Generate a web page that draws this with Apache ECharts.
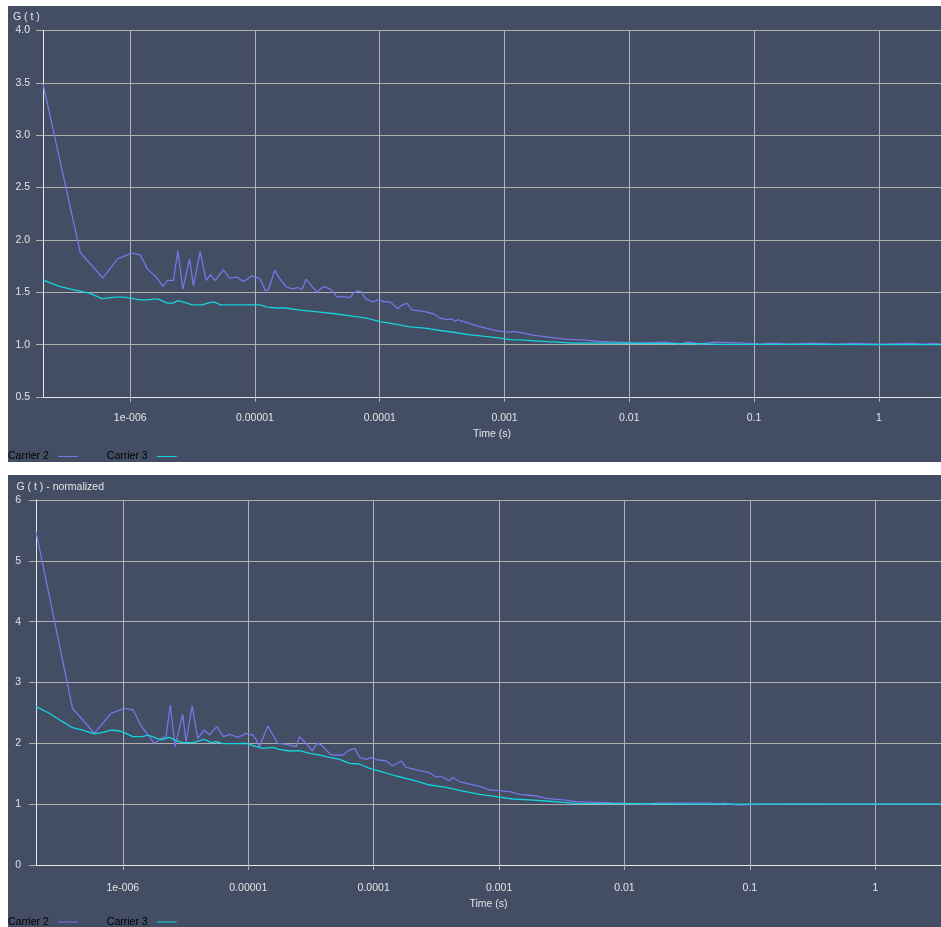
<!DOCTYPE html>
<html><head><meta charset="utf-8">
<script src="https://cdn.jsdelivr.net/npm/echarts@6/dist/echarts.min.js"></script>
<style>
html,body{margin:0;padding:0;background:#ffffff;width:941px;height:927px;overflow:hidden;}
#c1{position:absolute;left:8px;top:6px;width:933px;height:456px;}
#c2{position:absolute;left:8px;top:475px;width:933px;height:452px;}
</style></head><body>
<div id="c1"></div><div id="c2"></div>
<script>
// ---------- text ----------
const seriesNames = ['Carrier 2', 'Carrier 3'];
const xTickExponents = [-6, -5, -4, -3, -2, -1, 0];
const xTickLabels = ['1e-006', '0.00001', '0.0001', '0.001', '0.01', '0.1', '1'];
const topTitle = 'G ( t )';
const bottomTitle = 'G ( t ) - normalized';
const xName = 'Time (s)';

// ---------- top chart: G(t) ----------
const topC2Time = [2.0e-7,3.98e-7,6.04e-7,7.91e-7,1.03e-6,1.20e-6,1.38e-6,1.64e-6,1.83e-6,1.99e-6,2.22e-6,2.41e-6,2.64e-6,2.99e-6,3.21e-6,3.64e-6,4.06e-6,4.38e-6,4.80e-6,5.59e-6,6.25e-6,7.16e-6,8.09e-6,9.44e-6,1.10e-5,1.21e-5,1.28e-5,1.44e-5,1.59e-5,1.80e-5,2.03e-5,2.19e-5,2.38e-5,2.57e-5,2.86e-5,3.17e-5,3.33e-5,3.58e-5,4.01e-5,4.31e-5,4.53e-5,4.97e-5,5.79e-5,6.15e-5,6.63e-5,7.06e-5,7.78e-5,8.91e-5,9.59e-5,1.08e-4,1.23e-4,1.39e-4,1.48e-4,1.65e-4,1.81e-4,2.24e-4,2.69e-4,3.05e-4,3.45e-4,3.78e-4,4.02e-4,4.23e-4,5.14e-4,6.00e-4,7.67e-4,8.41e-4,1.07e-3,1.18e-3,1.33e-3,1.69e-3,2.32e-3,3.17e-3,4.27e-3,5.84e-3,8.44e-3,1.22e-2,1.94e-2,2.55e-2,2.96e-2,3.69e-2,4.87e-2,6.42e-2,8.47e-2,0.112,0.142,0.194,0.308,0.446,0.644,1.02,1.85,2.34,2.72,3.15];
const topC2G = [3.49,1.88,1.636,1.82,1.874,1.858,1.721,1.636,1.556,1.613,1.613,1.899,1.53,1.82,1.562,1.889,1.613,1.667,1.613,1.715,1.636,1.645,1.603,1.657,1.63,1.517,1.524,1.71,1.626,1.546,1.533,1.546,1.524,1.626,1.556,1.498,1.53,1.556,1.53,1.492,1.454,1.46,1.448,1.492,1.514,1.508,1.435,1.407,1.428,1.412,1.403,1.343,1.371,1.397,1.333,1.317,1.295,1.254,1.238,1.247,1.221,1.238,1.206,1.18,1.149,1.135,1.12,1.126,1.116,1.09,1.07,1.05,1.045,1.03,1.025,1.015,1.025,1.008,1.025,1.006,1.025,1.02,1.015,1.005,1.015,1.005,1.015,1.005,1.012,1.004,1.012,1.004,1.012,1.005];
const topC3Time = [2.0e-7,2.29e-7,2.75e-7,3.62e-7,4.78e-7,5.93e-7,7.58e-7,8.79e-7,1.0e-6,1.20e-6,1.37e-6,1.53e-6,1.68e-6,1.98e-6,2.21e-6,2.41e-6,2.85e-6,3.14e-6,3.78e-6,4.38e-6,4.80e-6,5.26e-6,5.98e-6,1.10e-5,1.25e-5,1.51e-5,1.75e-5,2.30e-5,3.33e-5,4.39e-5,5.79e-5,7.64e-5,1.01e-4,1.33e-4,1.75e-4,2.31e-4,3.05e-4,4.02e-4,5.30e-4,7.00e-4,9.22e-4,1.11e-3,1.33e-3,2.19e-3,3.55e-3,5.84e-3,1.47e-2,3.49e-2,5.35e-2,0.234,1.02,3.15];
const topC3G = [1.619,1.59,1.555,1.52,1.49,1.439,1.454,1.454,1.445,1.428,1.428,1.435,1.435,1.397,1.397,1.42,1.397,1.38,1.38,1.403,1.403,1.38,1.38,1.38,1.359,1.35,1.35,1.33,1.31,1.295,1.275,1.255,1.22,1.195,1.17,1.158,1.135,1.116,1.094,1.078,1.063,1.047,1.045,1.028,1.015,1.015,1.013,1.01,1.003,1.002,1.0,1.0];

// ---------- bottom chart: G(t) normalized ----------
const botC2Time = [2.03e-7,3.97e-7,5.92e-7,8.05e-7,1.03e-6,1.21e-6,1.40e-6,1.78e-6,2.02e-6,2.21e-6,2.39e-6,2.61e-6,3.00e-6,3.19e-6,3.57e-6,3.95e-6,4.47e-6,4.90e-6,5.61e-6,6.34e-6,7.08e-6,8.25e-6,9.62e-6,1.09e-5,1.16e-5,1.23e-5,1.43e-5,1.72e-5,2.01e-5,2.41e-5,2.56e-5,2.81e-5,3.24e-5,3.52e-5,3.82e-5,4.19e-5,4.59e-5,5.68e-5,6.43e-5,7.05e-5,7.72e-5,8.73e-5,9.57e-5,1.08e-4,1.26e-4,1.41e-4,1.66e-4,1.82e-4,2.19e-4,2.79e-4,3.16e-4,3.40e-4,3.68e-4,4.04e-4,4.24e-4,4.85e-4,5.48e-4,6.59e-4,7.45e-4,8.41e-4,1.01e-3,1.22e-3,1.46e-3,1.65e-3,1.99e-3,2.38e-3,2.86e-3,3.24e-3,4.14e-3,5.98e-3,7.93e-3,1.10e-2,1.45e-2,1.81e-2,3.32e-2,4.80e-2,5.36e-2,6.31e-2,8.02e-2,0.120,0.251,0.628,1.57,3.34];
const botC2G = [5.48,2.576,2.165,2.494,2.576,2.548,2.285,2.0,2.083,2.11,2.63,1.945,2.477,2.027,2.614,2.083,2.219,2.137,2.274,2.11,2.148,2.099,2.165,2.137,2.055,1.945,2.285,2.0,1.984,1.945,2.11,2.027,1.879,2.0,1.973,1.89,1.808,1.808,1.89,1.918,1.77,1.737,1.77,1.726,1.71,1.632,1.71,1.606,1.562,1.517,1.442,1.463,1.425,1.386,1.442,1.369,1.343,1.304,1.277,1.233,1.222,1.205,1.162,1.151,1.134,1.096,1.08,1.069,1.041,1.03,1.02,1.014,1.0,1.018,1.018,1.018,1.005,1.018,0.985,1.0,1.005,1.0,1.002,1.0];
const botC3Time = [2.03e-7,2.59e-7,3.31e-7,3.97e-7,4.78e-7,5.92e-7,6.90e-7,8.05e-7,9.38e-7,1.06e-6,1.20e-6,1.44e-6,1.58e-6,1.78e-6,2.02e-6,2.35e-6,2.66e-6,3.00e-6,3.61e-6,4.47e-6,5.06e-6,5.55e-6,6.26e-6,8.00e-6,9.62e-6,1.16e-5,1.31e-5,1.57e-5,1.77e-5,2.13e-5,2.56e-5,3.08e-5,3.70e-5,4.45e-5,5.35e-5,6.43e-5,7.72e-5,9.27e-5,1.11e-4,1.51e-4,2.06e-4,2.79e-4,3.79e-4,5.15e-4,7.00e-4,9.51e-4,1.29e-3,1.75e-3,2.38e-3,3.24e-3,4.40e-3,1.10e-2,3.99e-2,0.251,3.34];
const botC3G = [2.603,2.494,2.356,2.257,2.219,2.154,2.181,2.219,2.203,2.165,2.11,2.11,2.137,2.099,2.055,2.099,2.044,2.011,2.011,2.066,2.011,2.027,1.995,1.995,2.0,1.945,1.918,1.934,1.901,1.874,1.879,1.836,1.808,1.77,1.737,1.672,1.66,1.589,1.545,1.463,1.397,1.315,1.277,1.216,1.162,1.123,1.085,1.069,1.052,1.03,1.014,1.01,1.0,1.0,1.0];

// ---------- styling ----------
const BG = '#434d64';
const C2 = '#7676e4';
const C3 = '#14d4dc';
const TXT = '#e4e4e4';
const GRIDC = '#b0b0b0';
const AXISC = '#e8e8e8';
const FONT = '"Liberation Sans", Arial, sans-serif';
const FS = 10.5;

function zip(t, g) { return t.map((v, i) => [v, g[i]]); }
function xLabel(v) {
  const e = Math.round(Math.log10(v));
  const k = xTickExponents.indexOf(e);
  return (k >= 0 && Math.abs(Math.log10(v) - e) < 1e-6) ? xTickLabels[k] : '';
}

function build(cfg) {
  return {
    backgroundColor: BG,
    animation: false,
    title: { text: cfg.title, left: cfg.titleLeft, top: cfg.titleTop, padding: 0,
      textStyle: { color: TXT, fontSize: FS, fontWeight: 'normal', fontFamily: FONT } },
    legend: { left: 0, top: cfg.legendTop, padding: 0, align: 'right', icon: 'rect',
      itemWidth: 20, itemHeight: 1, itemGap: 29,
      data: seriesNames,
      textStyle: { color: '#000000', fontSize: FS, fontFamily: FONT, padding: [0, 4, 0, 0] } },
    grid: { left: cfg.gl, right: 0, top: cfg.gt, bottom: cfg.gb, outerBoundsMode: 'none', containLabel: false },
    xAxis: {
      type: 'log', logBase: 10, min: cfg.xmin, max: cfg.xmax,
      name: xName, nameLocation: 'middle', nameGap: cfg.nameGap,
      nameTextStyle: { color: TXT, fontSize: FS, fontFamily: FONT },
      axisLine: { show: true, lineStyle: { color: AXISC, width: 1 } },
      axisTick: { show: true, length: 5, lineStyle: { color: GRIDC } },
      minorTick: { show: false }, minorSplitLine: { show: false },
      splitLine: { show: true, lineStyle: { color: GRIDC, width: 1 } },
      axisLabel: { color: TXT, fontSize: FS, fontFamily: FONT, margin: cfg.xMargin,
        showMinLabel: false, showMaxLabel: false, formatter: xLabel }
    },
    yAxis: {
      type: 'value', min: cfg.ymin, max: cfg.ymax, interval: cfg.yint,
      axisLine: { show: true, lineStyle: { color: AXISC, width: 1 } },
      axisTick: { show: true, length: 7, lineStyle: { color: GRIDC } },
      splitLine: { show: true, lineStyle: { color: GRIDC, width: 1.2 } },
      axisLabel: { color: TXT, fontSize: FS, fontFamily: FONT, margin: cfg.yMargin,
        formatter: v => v.toFixed(cfg.ydec) }
    },
    series: [
      { name: seriesNames[0], type: 'line', symbol: 'none', data: cfg.d2,
        lineStyle: { color: C2, width: 1.3 }, itemStyle: { color: C2 }, z: 3 },
      { name: seriesNames[1], type: 'line', symbol: 'none', data: cfg.d3,
        lineStyle: { color: C3, width: 1.3 }, itemStyle: { color: C3 }, z: 4 }
    ]
  };
}

const ch1 = echarts.init(document.getElementById('c1'), null, { renderer: 'canvas' });
ch1.setOption(build({
  title: topTitle, titleLeft: 5, titleTop: 6, legendTop: 445,
  gl: 35, gt: 24.5, gb: 65, xmin: 2.0e-7, xmax: 3.15, nameGap: 30, xMargin: 16, yMargin: 13,
  ymin: 0.5, ymax: 4.0, yint: 0.5, ydec: 1,
  d2: zip(topC2Time, topC2G), d3: zip(topC3Time, topC3G)
}));

const ch2 = echarts.init(document.getElementById('c2'), null, { renderer: 'canvas' });
ch2.setOption(build({
  title: bottomTitle, titleLeft: 8.5, titleTop: 6.5, legendTop: 441.5,
  gl: 28, gt: 25, gb: 62, xmin: 2.03e-7, xmax: 3.34, nameGap: 30, xMargin: 18, yMargin: 15,
  ymin: 0, ymax: 6, yint: 1, ydec: 0,
  d2: zip(botC2Time, botC2G), d3: zip(botC3Time, botC3G)
}));
</script>
</body></html>
